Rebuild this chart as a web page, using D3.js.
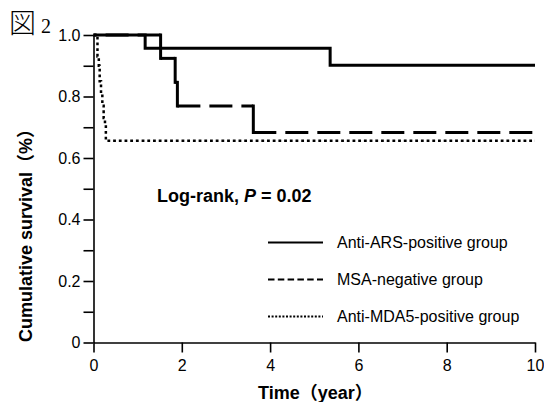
<!DOCTYPE html>
<html>
<head>
<meta charset="utf-8">
<script src="https://cdn.jsdelivr.net/npm/d3@7"></script>
<style>
  body { margin: 0; background: #fff; }
  svg { display: block; }
  text { font-family: "Liberation Sans", Arial, "Noto Sans CJK JP", sans-serif; fill: #000; }
</style>
</head>
<body>
<div id="chart"></div>
<script>
//tick values and labels
var yearTicks = [0, 2, 4, 6, 8, 10];
var survTicks = [0, 0.1, 0.2, 0.3, 0.4, 0.5, 0.6, 0.7, 0.8, 0.9, 1.0];
var survLabels = ["0", "", "0.2", "", "0.4", "", "0.6", "", "0.8", "", "1.0"];

//Kaplan-Meier step data (time in years, survival after the step)
var arsTimes = [0, 1.17, 5.36, 10];
var arsSurv = [1, 0.957, 0.902, 0.902];

var msaTimes = [0, 1.52, 1.85, 1.90, 3.62, 10];
var msaSurv = [1, 0.924, 0.846, 0.769, 0.683, 0.683];

var mdaTimes = [0, 0.09, 0.12, 0.14, 0.17, 0.20, 0.23, 0.26, 0.28, 10];
var mdaSurv = [1, 0.93, 0.90, 0.85, 0.81, 0.77, 0.73, 0.71, 0.656, 0.656];

var groupNames = ["Anti-ARS-positive group", "MSA-negative group", "Anti-MDA5-positive group"];

//svg size
var svgW = 544;
var svgH = 402;

var margin = {top: 35, right: 9, bottom: 59.5, left: 93.5};
var width = svgW - margin.left - margin.right;
var height = svgH - margin.top - margin.bottom;

var svg = d3.select("#chart").append("svg")
    .attr("width", svgW)
    .attr("height", svgH);

var chartGroup = svg.append("g")
    .attr("transform", `translate(${margin.left}, ${margin.top})`);

//scales
var xScale = d3.scaleLinear().domain([0, 10]).range([0, width]);
var yScale = d3.scaleLinear().domain([0, 1]).range([height, 0]);

//y axis
var leftAxis = d3.axisLeft(yScale)
    .tickValues(survTicks)
    .tickSize(10)
    .tickSizeOuter(0)
    .tickPadding(3)
    .tickFormat((d, i) => survLabels[i]);

var yAxis = chartGroup.append("g").call(leftAxis);

//x axis
var bottomAxis = d3.axisBottom(xScale)
    .tickValues(yearTicks)
    .tickSize(10)
    .tickSizeOuter(0)
    .tickPadding(7)
    .tickFormat(d => d);

var xAxis = chartGroup.append("g")
    .attr("transform", `translate(0, ${height})`)
    .call(bottomAxis);

[xAxis, yAxis].forEach(function(ax) {
    ax.select(".domain").attr("stroke", "#000").attr("stroke-width", 1.6);
    ax.selectAll(".tick line").attr("stroke", "#000").attr("stroke-width", 1.6);
    ax.selectAll(".tick text")
        .attr("font-size", "16px")
        .attr("font-family", "'Liberation Sans', Arial, sans-serif")
        .attr("fill", "#111");
});

//step path helper
function stepPoints(times, surv) {
    return times.map((t, i) => [t, surv[i]]);
}

var stepLine = d3.line()
    .x(d => xScale(d[0]))
    .y(d => yScale(d[1]))
    .curve(d3.curveStepAfter);

//anti-MDA5 dotted curve
chartGroup.append("path")
    .datum(stepPoints(mdaTimes, mdaSurv))
    .attr("d", stepLine)
    .attr("fill", "none")
    .attr("stroke", "#000")
    .attr("stroke-width", 2.5)
    .attr("stroke-dasharray", "2.8,2.9");

//MSA-negative dashed curve: dashed horizontal runs, solid drops
for (var i = 0; i < msaTimes.length - 1; i++) {
    var x0 = xScale(msaTimes[i]);
    var x1 = xScale(msaTimes[i + 1]);
    var yv = yScale(msaSurv[i]);
    //first run is drawn from its right end so the visible part stays solid
    var seg = i === 0 ? [[x1, yv], [x0, yv]] : [[x0, yv], [x1, yv]];
    chartGroup.append("path")
        .attr("d", d3.line()(seg))
        .attr("fill", "none")
        .attr("stroke", "#000")
        .attr("stroke-width", 3)
        .attr("stroke-dasharray", "23,9");
    if (msaSurv[i + 1] !== msaSurv[i]) {
        chartGroup.append("path")
            .attr("d", d3.line()([[x1, yv - 1.5], [x1, yScale(msaSurv[i + 1]) + 1.5]]))
            .attr("fill", "none")
            .attr("stroke", "#000")
            .attr("stroke-width", 3);
    }
}

//anti-ARS solid curve
chartGroup.append("path")
    .datum(stepPoints(arsTimes, arsSurv))
    .attr("d", stepLine)
    .attr("fill", "none")
    .attr("stroke", "#000")
    .attr("stroke-width", 3);

//log-rank text
var logRank = svg.append("text")
    .attr("x", 157)
    .attr("y", 201.5)
    .attr("font-size", "18px")
    .attr("font-weight", "bold");
logRank.append("tspan").text("Log-rank, ");
logRank.append("tspan").attr("font-style", "italic").text("P");
logRank.append("tspan").text(" = 0.02");

//legend
var legendStyles = [
    {dash: null, w: 2},
    {dash: "6.5,3.3", w: 2},
    {dash: "2,1.6", w: 2.2}
];
var legend = svg.append("g");
groupNames.forEach(function(name, i) {
    var yRow = 242.5 + i * 37;
    var ln = legend.append("line")
        .attr("x1", 268)
        .attr("x2", 323)
        .attr("y1", yRow)
        .attr("y2", yRow)
        .attr("stroke", "#000")
        .attr("stroke-width", legendStyles[i].w);
    if (legendStyles[i].dash) ln.attr("stroke-dasharray", legendStyles[i].dash);
    legend.append("text")
        .attr("x", 337)
        .attr("y", yRow + 5)
        .attr("font-size", "16px")
        .attr("fill", "#111")
        .text(name);
});

//axis titles
svg.append("text")
    .attr("transform", "translate(32, 342) rotate(-90)")
    .attr("font-size", "18px")
    .attr("font-weight", "bold")
    .text("Cumulative survival（%）");

svg.append("text")
    .attr("x", 258)
    .attr("y", 399)
    .attr("font-size", "18px")
    .attr("font-weight", "bold")
    .text("Time（year）");

//figure label
var figLabel = svg.append("text")
    .attr("x", 9)
    .attr("y", 33);
figLabel.append("tspan")
    .attr("font-family", "'Noto Sans CJK JP', sans-serif")
    .attr("font-size", "27px")
    .attr("font-weight", 300)
    .text("図");
figLabel.append("tspan")
    .attr("x", 41)
    .attr("font-family", "'Liberation Serif', 'Times New Roman', serif")
    .attr("font-size", "20px")
    .text("2");
</script>
</body>
</html>
